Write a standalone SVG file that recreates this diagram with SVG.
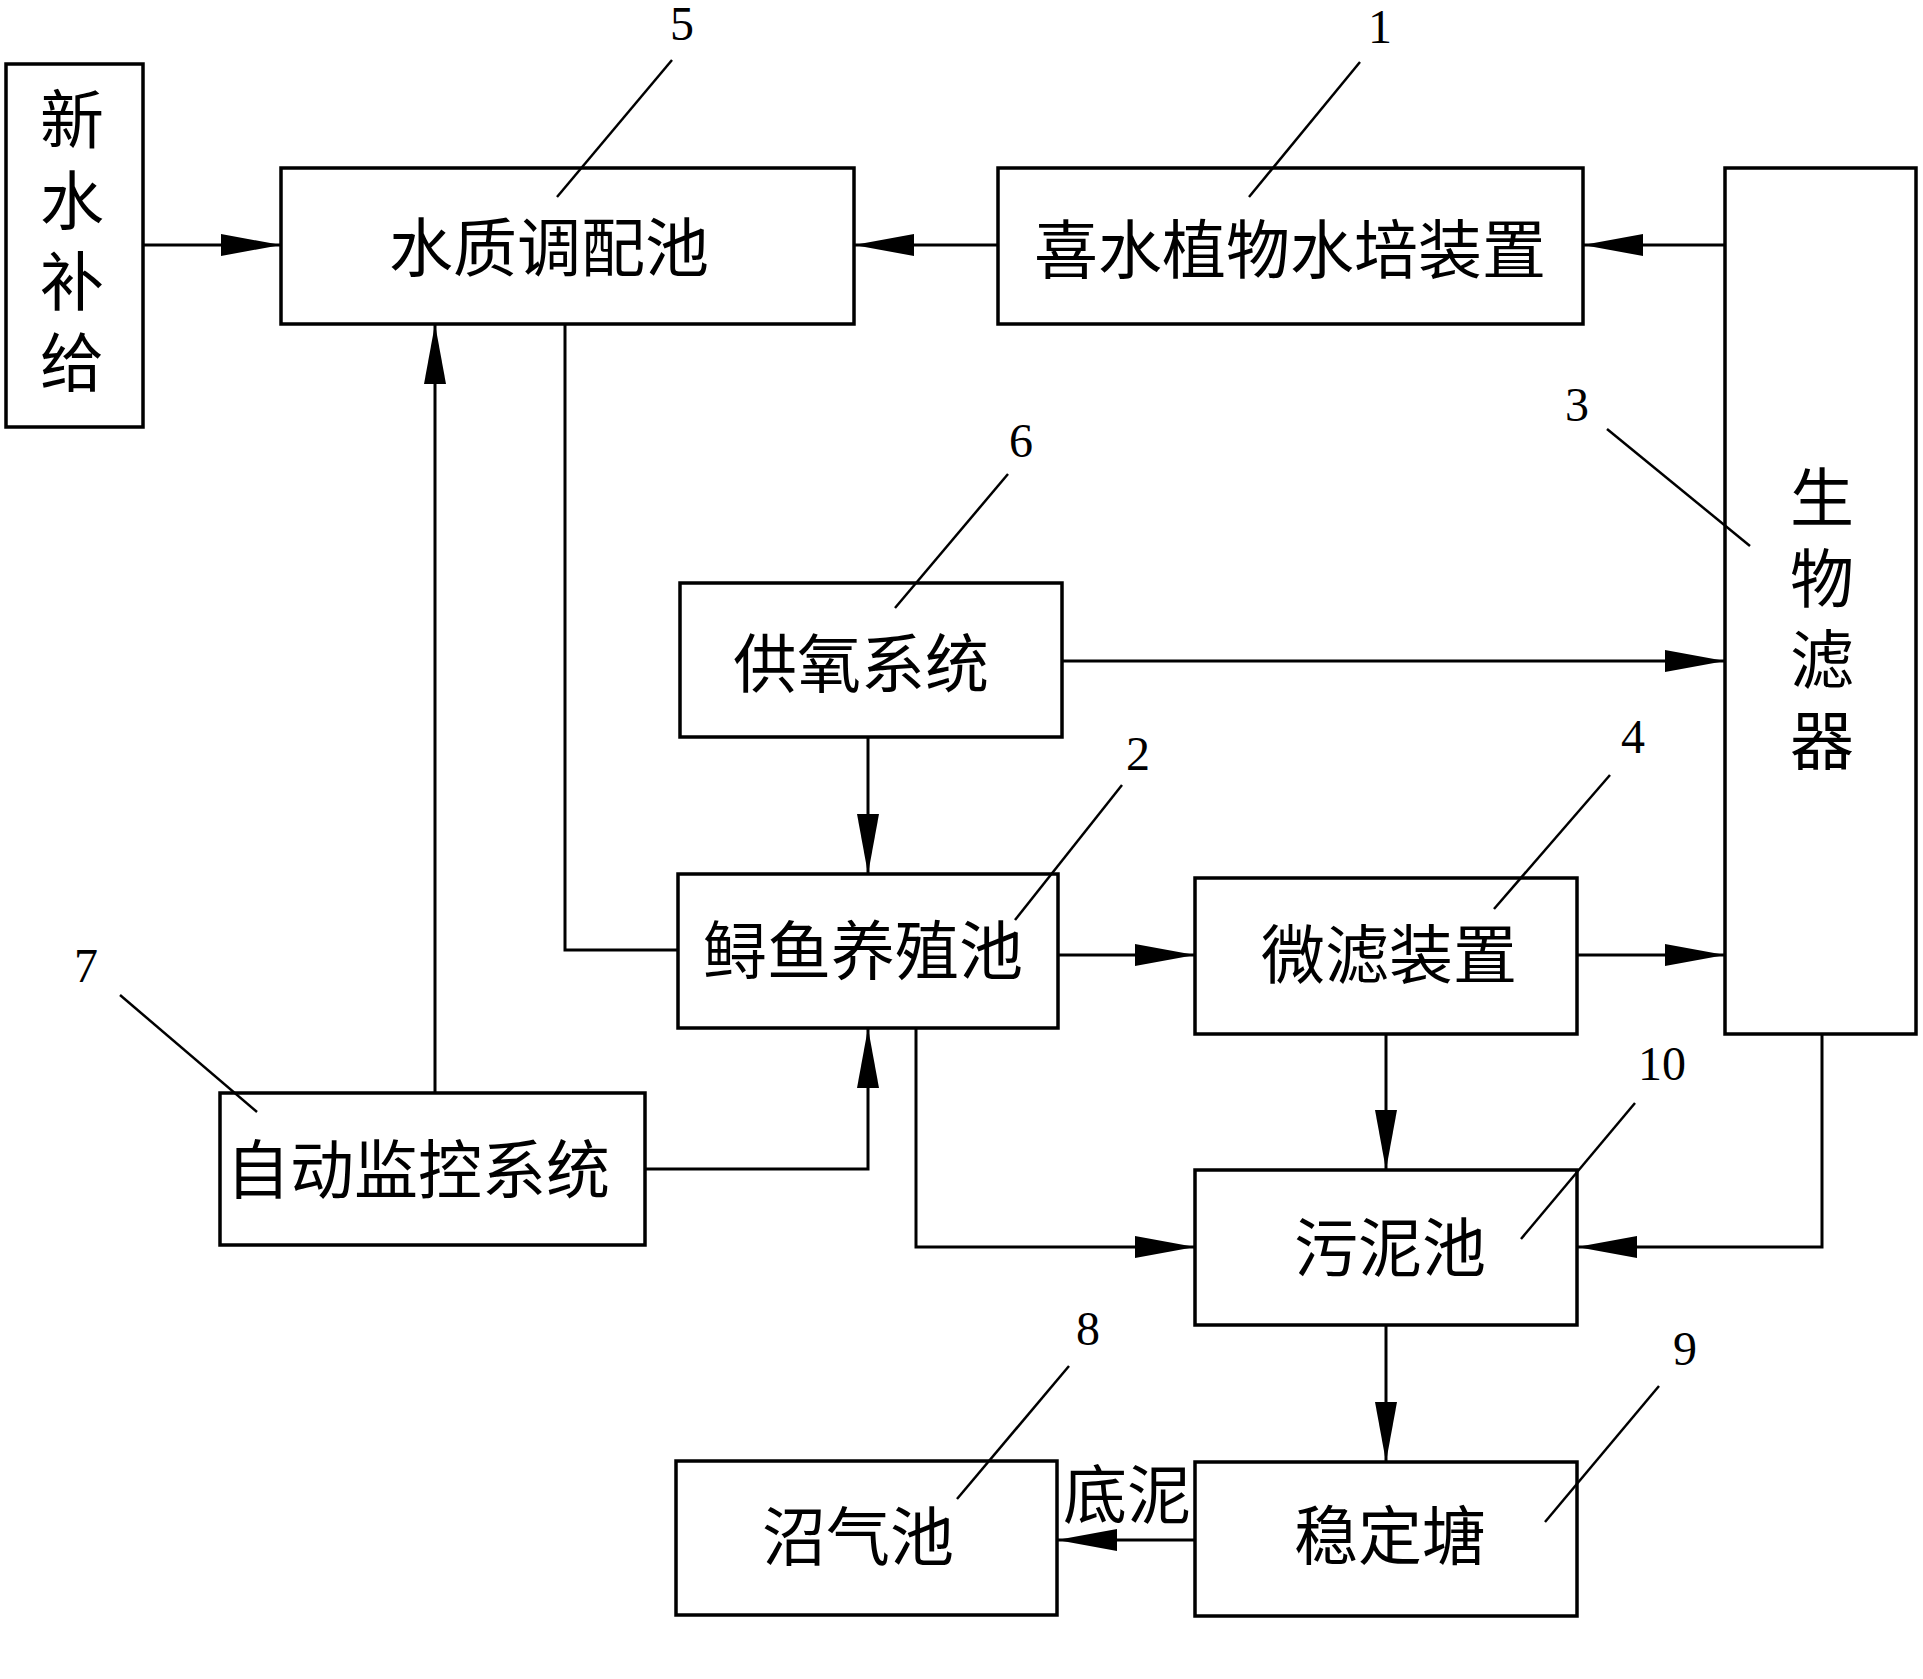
<svg xmlns="http://www.w3.org/2000/svg" width="1923" height="1679" viewBox="0 0 1923 1679">
<style>
.box{fill:#fff;stroke:#000;stroke-width:3.5}
.t{font-family:"Noto Sans CJK SC","Noto Sans CJK JP",sans-serif;font-size:64px;fill:#000;text-anchor:middle;dominant-baseline:central}
.v{font-family:"Noto Sans CJK SC","Noto Sans CJK JP",sans-serif;font-size:64px;fill:#000;writing-mode:vertical-rl;letter-spacing:17px}
.n{font-family:"Liberation Serif",serif;font-size:48px;fill:#000;text-anchor:middle;dominant-baseline:central}
.ld{stroke:#000;stroke-width:2.5;fill:none}
.c{stroke:#000;stroke-width:3;fill:none}
.a{marker-end:url(#ah)}
</style>
<defs>
<marker id="ah" viewBox="0 0 60 22" refX="60" refY="11" markerWidth="60" markerHeight="22" markerUnits="userSpaceOnUse" orient="auto">
<path d="M0,0 L60,11 L0,22 Z" fill="#000"/>
</marker>
</defs>
<rect width="1923" height="1679" fill="#fff"/>

<g id="connectors">
<path class="c a" d="M143,245 H281"/>
<path class="c a" d="M998,245 H854"/>
<path class="c a" d="M1725,245 H1583"/>
<path class="c" d="M565,324 V950 H678"/>
<path class="c a" d="M435,1093 V324"/>
<path class="c a" d="M645,1169 H868 V1028"/>
<path class="c a" d="M868,737 V874"/>
<path class="c a" d="M1062,661 H1725"/>
<path class="c a" d="M1058,955 H1195"/>
<path class="c a" d="M1577,955 H1725"/>
<path class="c a" d="M916,1028 V1247 H1195"/>
<path class="c a" d="M1386,1034 V1170"/>
<path class="c a" d="M1822,1034 V1247 H1577"/>
<path class="c a" d="M1386,1325 V1462"/>
<path class="c a" d="M1195,1540 H1057"/>
<text class="t" x="1127" y="1490">底泥</text>
</g>

<g id="node-xinshui">
<rect class="box" x="6" y="64" width="137" height="363"/>
<text class="v" x="72" y="87">新水补给</text>
</g>

<g id="node-5">
<rect class="box" x="281" y="168" width="573" height="156"/>
<text class="t" x="549" y="243">水质调配池</text>
<line class="ld" x1="672" y1="60" x2="557" y2="197"/>
<text class="n" x="682" y="23">5</text>
</g>

<g id="node-1">
<rect class="box" x="998" y="168" width="585" height="156"/>
<text class="t" x="1290" y="245">喜水植物水培装置</text>
<line class="ld" x1="1360" y1="62" x2="1249" y2="197"/>
<text class="n" x="1380" y="26">1</text>
</g>

<g id="node-3">
<rect class="box" x="1725" y="168" width="191" height="866"/>
<text class="v" x="1822" y="465">生物滤器</text>
<line class="ld" x1="1607" y1="429" x2="1750" y2="546"/>
<text class="n" x="1577" y="404">3</text>
</g>

<g id="node-6">
<rect class="box" x="680" y="583" width="382" height="154"/>
<text class="t" x="861" y="659">供氧系统</text>
<line class="ld" x1="1008" y1="474" x2="895" y2="608"/>
<text class="n" x="1021" y="440">6</text>
</g>

<g id="node-2">
<rect class="box" x="678" y="874" width="380" height="154"/>
<text class="t" x="863" y="946">鲟鱼养殖池</text>
<line class="ld" x1="1122" y1="785" x2="1015" y2="920"/>
<text class="n" x="1138" y="753">2</text>
</g>

<g id="node-4">
<rect class="box" x="1195" y="878" width="382" height="156"/>
<text class="t" x="1389" y="950">微滤装置</text>
<line class="ld" x1="1610" y1="775" x2="1494" y2="909"/>
<text class="n" x="1633" y="736">4</text>
</g>

<g id="node-7">
<rect class="box" x="220" y="1093" width="425" height="152"/>
<text class="t" x="226" y="1165" style="text-anchor:start">自动监控系统</text>
<line class="ld" x1="120" y1="995" x2="257" y2="1112"/>
<text class="n" x="86" y="965">7</text>
</g>

<g id="node-10">
<rect class="box" x="1195" y="1170" width="382" height="155"/>
<text class="t" x="1390" y="1243">污泥池</text>
<line class="ld" x1="1635" y1="1103" x2="1521" y2="1239"/>
<text class="n" x="1662" y="1063">10</text>
</g>

<g id="node-8">
<rect class="box" x="676" y="1461" width="381" height="154"/>
<text class="t" x="858" y="1532">沼气池</text>
<line class="ld" x1="1069" y1="1366" x2="957" y2="1499"/>
<text class="n" x="1088" y="1328">8</text>
</g>

<g id="node-9">
<rect class="box" x="1195" y="1462" width="382" height="154"/>
<text class="t" x="1390" y="1531">稳定塘</text>
<line class="ld" x1="1659" y1="1386" x2="1545" y2="1522"/>
<text class="n" x="1685" y="1348">9</text>
</g>
</svg>
